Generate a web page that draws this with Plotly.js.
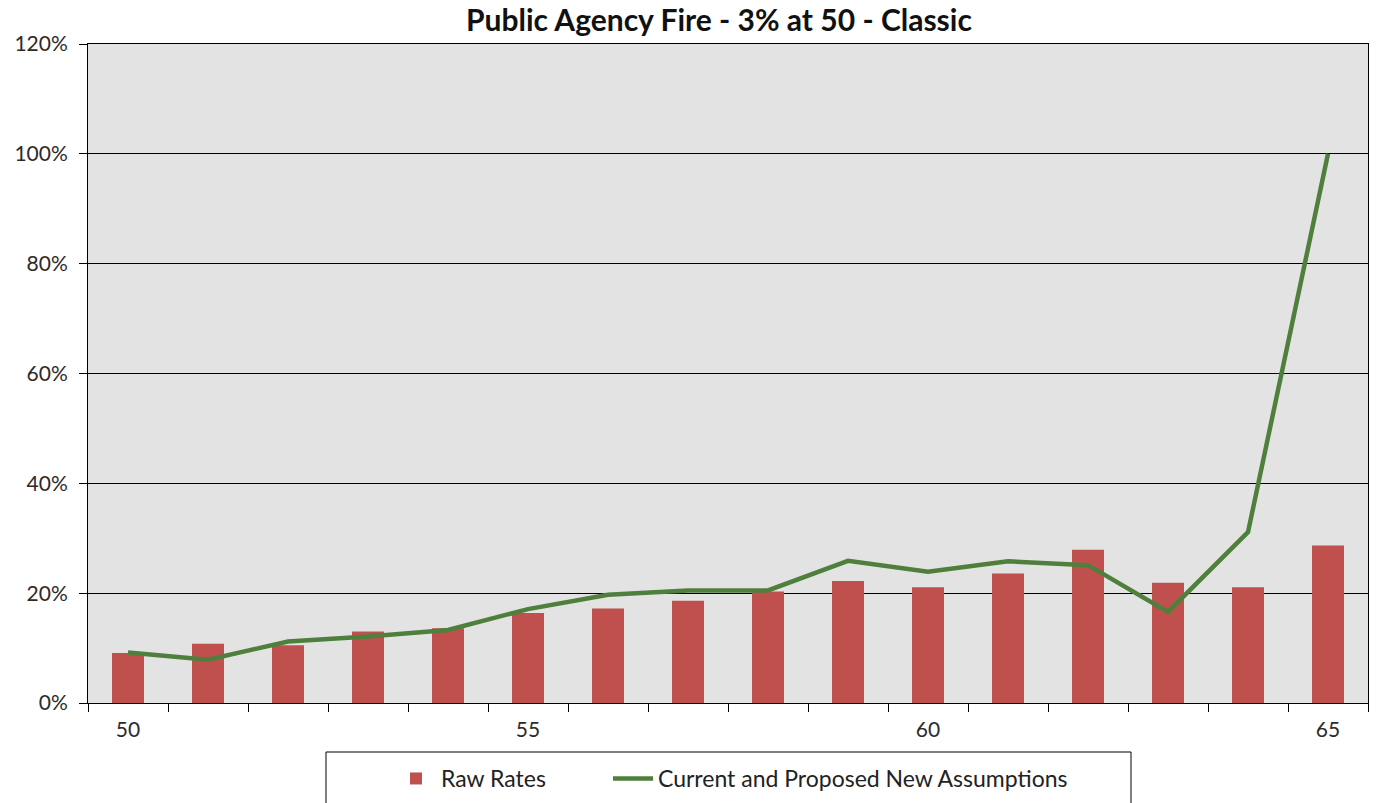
<!DOCTYPE html>
<html>
<head>
<meta charset="utf-8">
<script src="https://cdn.plot.ly/plotly-3.0.1.min.js"></script>
<style>html,body{margin:0;padding:0;background:#fff;}#chart{width:1376px;height:803px;}</style>
</head>
<body>
<div id="chart"></div>
<script>
const ages = [50, 51, 52, 53, 54, 55, 56, 57, 58, 59, 60, 61, 62, 63, 64, 65];
const rawRates = [0.091, 0.108, 0.105, 0.130, 0.136, 0.164, 0.172, 0.186, 0.203, 0.222, 0.211, 0.236, 0.279, 0.219, 0.211, 0.287];
const assumptions = [0.092, 0.079, 0.112, 0.121, 0.133, 0.171, 0.197, 0.205, 0.205, 0.259, 0.239, 0.258, 0.251, 0.166, 0.311, 1.00];
const xTickVals = [50, 55, 60, 65];
const xTickText = ['50', '55', '60', '65'];
const yTickVals = [0, 0.2, 0.4, 0.6, 0.8, 1.0, 1.2];

const FONT = 'Lato, "Open Sans", sans-serif';

const traces = [
  {
    type: 'bar', name: 'Raw Rates', x: ages, y: rawRates, width: 0.4,
    marker: {color: '#C0504D'}, hoverinfo: 'x+y', legend: 'legend'
  },
  {
    type: 'scatter', mode: 'lines', name: 'Current and Proposed New Assumptions',
    x: ages, y: assumptions,
    line: {color: '#4F7F3C', width: 4.5}, legend: 'legend2'
  }
];

const PH = 659;
const legendBase = {
  orientation: 'h', xanchor: 'left',
  y: -(757 - 703) / PH, yanchor: 'top',
  bgcolor: 'rgba(0,0,0,0)', borderwidth: 0,
  font: {family: FONT, size: 23, color: '#222'},
  itemwidth: 40
};
const layout = {
  width: 1376, height: 803,
  margin: {l: 88, r: 8, t: 44, b: 100, autoexpand: false},
  paper_bgcolor: '#ffffff',
  plot_bgcolor: '#E3E3E3',
  font: {family: FONT, size: 21, color: '#2b2b2b'},
  title: {
    text: '<b>Public Agency Fire - 3% at 50 - Classic</b>',
    x: 0.5225, xanchor: 'center', y: 0.975, yanchor: 'middle',
    font: {family: FONT, size: 30, color: '#111'}
  },
  xaxis: {
    range: [49.5, 65.5],
    tickvals: xTickVals, ticktext: xTickText,
    ticks: '', showgrid: false, zeroline: false,
    showline: true, linecolor: '#000', linewidth: 1, mirror: true,
    minor: {tick0: 49.5, dtick: 1, ticks: 'outside', ticklen: 8, tickcolor: '#000', tickwidth: 1, showgrid: false},
    tickfont: {family: FONT, size: 21, color: '#2b2b2b'},
    ticklabelstandoff: 8
  },
  yaxis: {
    range: [0, 1.2],
    tickvals: yTickVals, tickformat: '.0%',
    ticks: 'outside', ticklen: 8, tickcolor: '#000', tickwidth: 1,
    showgrid: true, gridcolor: '#000', gridwidth: 1,
    zeroline: false,
    showline: true, linecolor: '#000', linewidth: 1, mirror: true,
    tickfont: {family: FONT, size: 21, color: '#2b2b2b'},
    ticklabelstandoff: 7
  },
  showlegend: true,
  legend: Object.assign({}, legendBase, {x: (391 - 88) / 1280}),
  legend2: Object.assign({}, legendBase, {x: (608 - 88) / 1280}),
  shapes: [
    {type: 'rect', xref: 'paper', yref: 'paper',
     x0: (326 - 88) / 1280, x1: (1131 - 88) / 1280,
     y0: -(815 - 703) / PH, y1: -(752 - 703) / PH,
     line: {color: '#000', width: 1}, fillcolor: 'rgba(0,0,0,0)', layer: 'below'}
  ]
};

Plotly.newPlot('chart', traces, layout, {displayModeBar: false, staticPlot: true});
</script>
</body>
</html>
